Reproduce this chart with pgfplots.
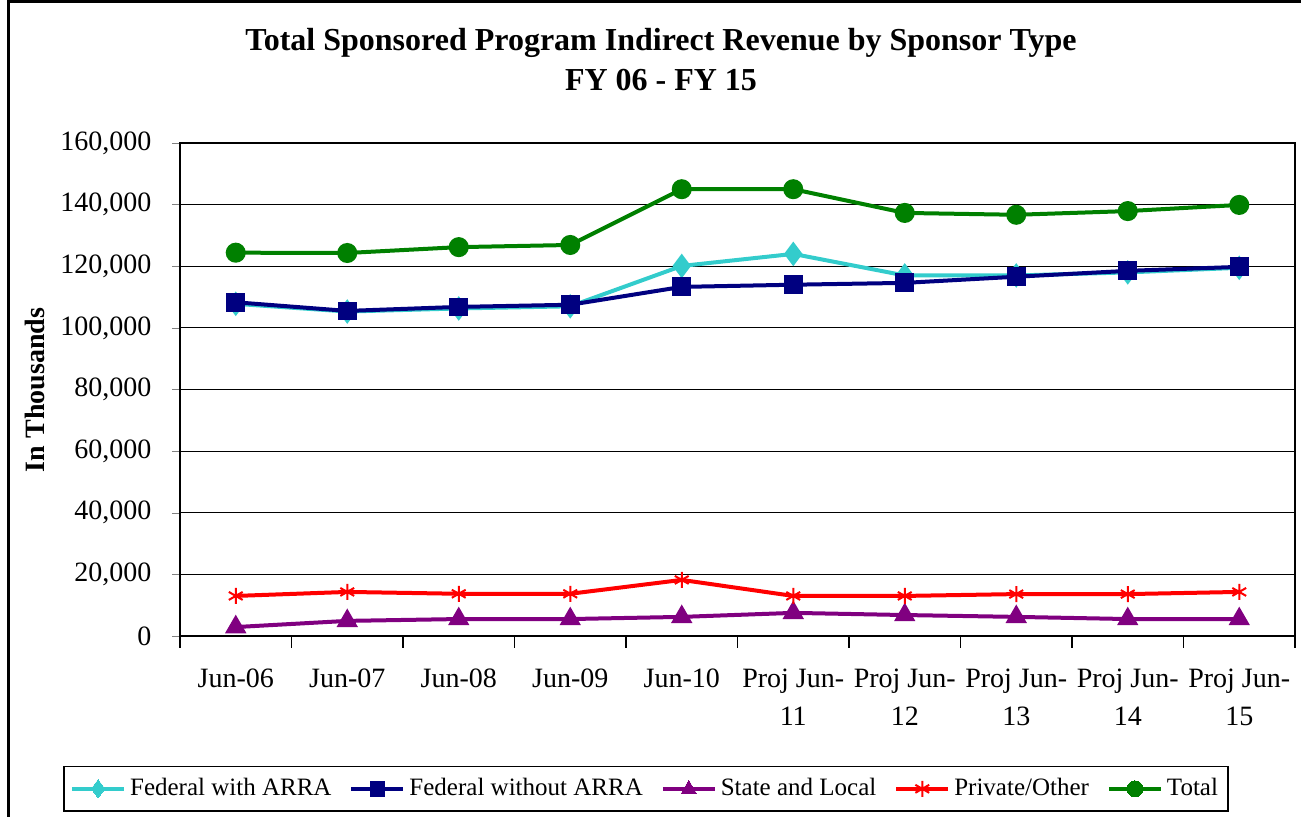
\documentclass[border=0pt]{standalone}
\usepackage{pgfplots}
\pgfplotsset{compat=1.18}
\usepackage{fontspec}
\setmainfont{Liberation Serif}
\definecolor{cArra}{HTML}{33CCCC}
\definecolor{cFed}{HTML}{000080}
\definecolor{cState}{HTML}{800080}
\definecolor{cPriv}{HTML}{FF0000}
\definecolor{cTot}{HTML}{008000}
\begin{document}
\begin{tikzpicture}
\useasboundingbox (0,0) rectangle (650.5pt,408.5pt);
\draw[line width=1.5pt] (4pt,0) -- (4pt,407.5pt) -- (650.5pt,407.5pt);
\node[font=\bfseries\fontsize{16}{20}\selectfont, align=center] at (330.5pt,378.5pt) {Total Sponsored Program Indirect Revenue by Sponsor Type\\FY 06 - FY 15};
\node[font=\bfseries\fontsize{14}{16}\selectfont, rotate=90] at (17.5pt,213.5pt) {In Thousands};
\begin{axis}[
  at={(90pt,90.5pt)}, anchor=south west,
  scale only axis, width=557.5pt, height=246.5pt,
  xmin=-0.5, xmax=9.5, ymin=0, ymax=160000,
  scaled y ticks=false,
  xtick={0,...,9},
  xticklabels={Jun-06,Jun-07,Jun-08,Jun-09,Jun-10,{Proj Jun-\\11},{Proj Jun-\\12},{Proj Jun-\\13},{Proj Jun-\\14},{Proj Jun-\\15}},
  xticklabel style={align=center, font=\fontsize{14}{19}\selectfont, yshift=-8pt},
  minor xtick={-0.5,0.5,...,9.5},
  major x tick style={draw=none},
  minor x tick style={black, line width=0.6pt},
  minor tick length=6pt,
  ytick={0,20000,40000,60000,80000,100000,120000,140000,160000},
  yticklabels={0,{20,000},{40,000},{60,000},{80,000},{100,000},{120,000},{140,000},{160,000}},
  yticklabel style={font=\fontsize{14}{16}\selectfont, xshift=-6pt},
  major tick length=4pt,
  tick align=outside,
  xtick pos=bottom, ytick pos=left,
  ymajorgrids, grid style={black, line width=0.6pt},
  axis line style={black, line width=0.6pt},
  line width=2pt,
  legend columns=5,
  legend style={at={(0.418,-0.31)}, anchor=center, draw=black, line width=0.8pt, font=\fontsize{12.5}{14}\selectfont, /tikz/every even column/.append style={column sep=7pt}, inner ysep=4pt},
  legend image code/.code={\draw[#1, line width=2pt] (0pt,0pt) -- (26pt,0pt); \draw[#1, line width=0pt] plot coordinates {(13pt,0pt)};},
]
\addplot[cArra, mark=diamond*, mark size=4.5pt] coordinates {(0,107800) (1,105300) (2,106300) (3,107000) (4,120100) (5,124000) (6,117000) (7,117000) (8,118000) (9,119500)};
\addlegendentry{Federal with ARRA}
\addplot[cFed, mark=square*, mark size=3.7pt] coordinates {(0,108300) (1,105500) (2,106800) (3,107500) (4,113300) (5,114000) (6,114600) (7,116600) (8,118500) (9,119800)};
\addlegendentry{Federal without ARRA}
\addplot[cState, mark=triangle*, mark size=4.2pt] coordinates {(0,2900) (1,4900) (2,5500) (3,5500) (4,6200) (5,7500) (6,6800) (7,6200) (8,5500) (9,5500)};
\addlegendentry{State and Local}
\addplot[cPriv, mark=asterisk, mark size=4pt, mark options={line width=1pt}] coordinates {(0,13000) (1,14300) (2,13700) (3,13700) (4,18200) (5,13000) (6,13000) (7,13600) (8,13600) (9,14300)};
\addlegendentry{Private/Other}
\addplot[cTot, mark=*, mark size=4pt] coordinates {(0,124400) (1,124300) (2,126200) (3,126900) (4,145000) (5,145000) (6,137300) (7,136700) (8,137900) (9,139900)};
\addlegendentry{Total}
\end{axis}
\end{tikzpicture}
\end{document}
